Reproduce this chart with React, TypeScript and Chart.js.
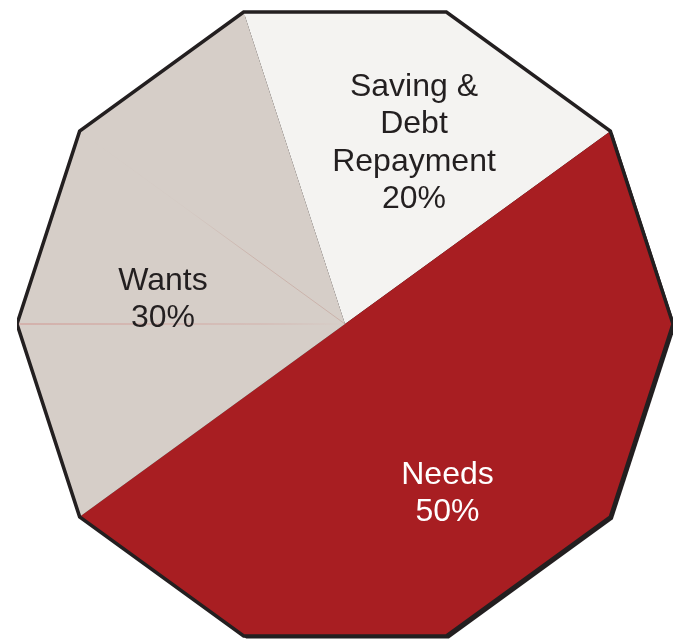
import React, { useEffect, useRef } from 'react';
import { Chart, registerables } from 'chart.js';

Chart.register(...registerables);

const categories = ['Saving &\nDebt\nRepayment', 'Needs', 'Wants'];
const shares = [20, 50, 30];
const sliceColors = ['#F4F3F1', '#A81E22', '#D6CEC8'];
const labelColors = ['#231F20', '#FFFFFF', '#231F20'];

const DARK = '#231F20';

const decagonPlugin = {
  id: 'decagon',
  beforeDatasetsDraw(chart: any, _args: any, opts: any) {
    const arc: any = chart.getDatasetMeta(0).data[0];
    if (!arc) return;
    const { x, y, outerRadius: r } = arc;
    const ctx = chart.ctx as CanvasRenderingContext2D;
    const path = (dx: number, dy: number) => {
      ctx.beginPath();
      for (let k = 0; k < 10; k++) {
        const a = (k * Math.PI) / 5;
        const px = x + dx + r * Math.cos(a);
        const py = y + dy + r * Math.sin(a);
        if (k === 0) ctx.moveTo(px, py);
        else ctx.lineTo(px, py);
      }
      ctx.closePath();
    };
    ctx.save();
    path(opts.shadow, opts.shadow);
    ctx.fillStyle = DARK;
    ctx.fill();
    ctx.restore();
    ctx.save();
    path(0, 0);
    ctx.clip();
  },
  afterDatasetsDraw(chart: any, _args: any, opts: any) {
    const meta = chart.getDatasetMeta(0);
    const arc0: any = meta.data[0];
    if (!arc0) return;
    const ctx = chart.ctx as CanvasRenderingContext2D;
    ctx.restore();
    const { x, y, outerRadius: r } = arc0;

    // faint seams inside the Wants slice
    ctx.save();
    ctx.lineWidth = 1;
    let g = ctx.createLinearGradient(x + r * Math.cos(Math.PI), y, x, y);
    g.addColorStop(0, 'rgba(205,110,105,0.6)');
    g.addColorStop(0.75, 'rgba(205,110,105,0.3)');
    g.addColorStop(1, 'rgba(205,110,105,0)');
    ctx.strokeStyle = g;
    ctx.beginPath();
    ctx.moveTo(x, y);
    ctx.lineTo(x + r * Math.cos(Math.PI), y + r * Math.sin(Math.PI));
    ctx.stroke();
    const ex = x + r * Math.cos((6 * Math.PI) / 5);
    const ey = y + r * Math.sin((6 * Math.PI) / 5);
    g = ctx.createLinearGradient(ex, ey, x, y);
    g.addColorStop(0, 'rgba(190,150,140,0)');
    g.addColorStop(0.4, 'rgba(190,150,140,0.05)');
    g.addColorStop(0.65, 'rgba(190,150,140,0.45)');
    g.addColorStop(1, 'rgba(190,150,140,0.5)');
    ctx.strokeStyle = g;
    ctx.beginPath();
    ctx.moveTo(x, y);
    ctx.lineTo(ex, ey);
    ctx.stroke();
    ctx.restore();

    // outline
    ctx.save();
    ctx.beginPath();
    for (let k = 0; k < 10; k++) {
      const a = (k * Math.PI) / 5;
      const px = x + r * Math.cos(a);
      const py = y + r * Math.sin(a);
      if (k === 0) ctx.moveTo(px, py);
      else ctx.lineTo(px, py);
    }
    ctx.closePath();
    ctx.lineWidth = opts.lineWidth;
    ctx.lineJoin = 'miter';
    ctx.strokeStyle = DARK;
    ctx.stroke();
    ctx.restore();

    // labels
    ctx.save();
    ctx.font = `${opts.fontSize}px "Liberation Sans", Arial, sans-serif`;
    ctx.textAlign = 'center';
    ctx.textBaseline = 'alphabetic';
    const capH = opts.fontSize * 0.716;
    const lh = opts.lineHeight;
    meta.data.forEach((el: any, i: number) => {
      const mid = (el.startAngle + el.endAngle) / 2 + (opts.angleShift[i] * Math.PI) / 180;
      const rr = el.outerRadius * opts.radial[i];
      const cx = el.x + rr * Math.cos(mid);
      const cy = el.y + rr * Math.sin(mid);
      const lines = [...categories[i].split('\n'), `${shares[i]}%`];
      const first = cy - (capH + (lines.length - 1) * lh) / 2 + capH;
      ctx.fillStyle = labelColors[i];
      lines.forEach((t, j) => ctx.fillText(t, cx, first + j * lh));
    });
    ctx.restore();
  },
};

export default function App() {
  const ref = useRef<HTMLCanvasElement>(null);
  useEffect(() => {
    if (!ref.current) return;
    const chart = new Chart(ref.current, {
      type: 'pie',
      data: {
        labels: categories,
        datasets: [
          {
            data: shares,
            backgroundColor: sliceColors,
            borderWidth: 0,
          },
        ],
      },
      options: {
        animation: false,
        responsive: false,
        rotation: -18,
        layout: { padding: 0 },
        plugins: {
          legend: { display: false },
          tooltip: { enabled: false },
          decagon: {
            shadow: 2.5,
            lineWidth: 3.5,
            fontSize: 32,
            lineHeight: 37.5,
            angleShift: [2.6, 4.5, -9.6],
            radial: [0.598, 0.598, 0.561],
          },
        } as any,
      },
      plugins: [decagonPlugin as any],
    });
    return () => chart.destroy();
  }, []);
  return (
    <div
      style={{
        position: 'fixed',
        left: 0,
        top: 0,
        width: 677,
        height: 640,
        overflow: 'hidden',
        background: '#fff',
      }}
    >
      <canvas
        ref={ref}
        width={656}
        height={656}
        style={{ position: 'absolute', left: 17, top: -4, width: 656, height: 656 }}
      />
    </div>
  );
}
